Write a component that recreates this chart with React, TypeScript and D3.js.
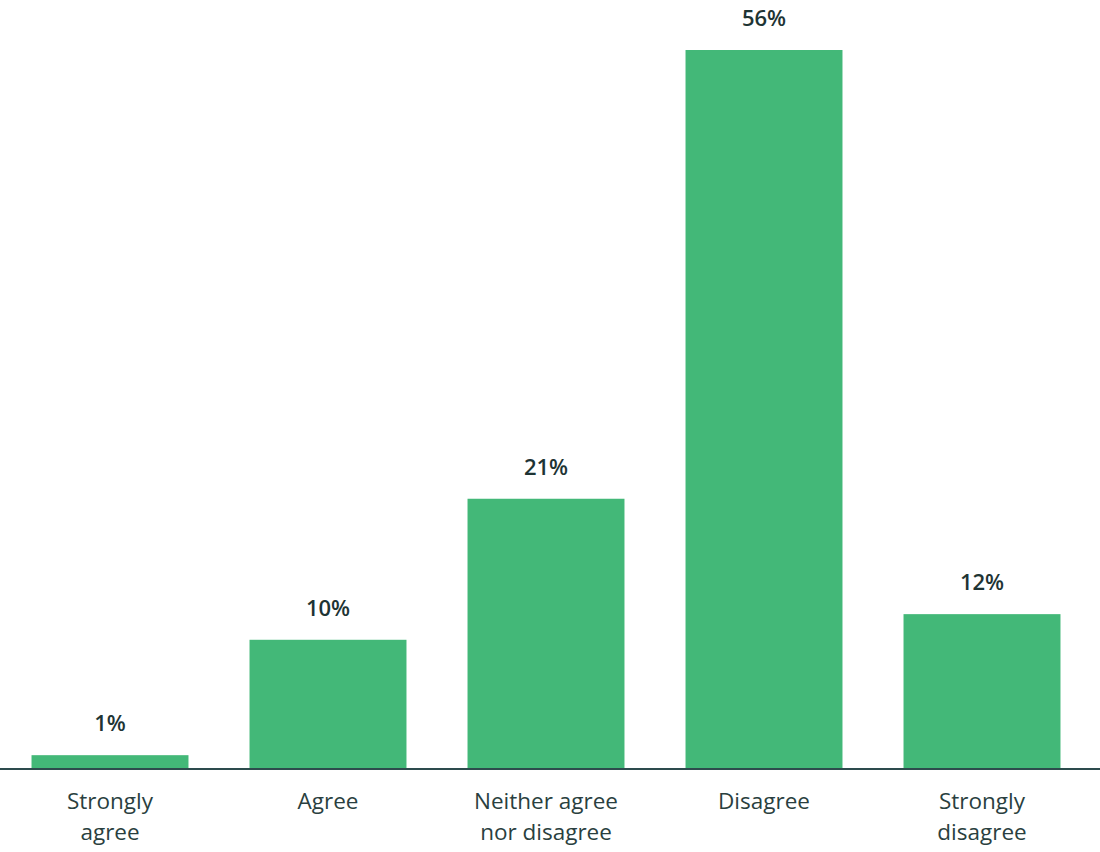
import React from "react";
import * as d3 from "d3";

const categories: string[][] = [
  ["Strongly", "agree"],
  ["Agree"],
  ["Neither agree", "nor disagree"],
  ["Disagree"],
  ["Strongly", "disagree"],
];
const values: number[] = [1, 10, 21, 56, 12];
const valueLabels: string[] = ["1%", "10%", "21%", "56%", "12%"];

const W = 1100;
const H = 852;
const baseY = 768;

export default function App() {
  const keys = categories.map((c) => c.join(" "));
  const x = d3.scaleBand<string>().domain(keys).range([1, 1091]).paddingInner(0.28).paddingOuter(0.14);
  const y = d3.scaleLinear().domain([0, 56]).range([baseY, 50]);
  const font = "'Open Sans', Lato, sans-serif";
  return (
    <svg width={W} height={H} style={{ position: "absolute", left: 0, top: 0, background: "#fff" }}>
      {values.map((v, i) => {
        const bx = x(keys[i])!;
        const cx = bx + x.bandwidth() / 2;
        return (
          <g key={i}>
            <rect x={bx} y={y(v)} width={x.bandwidth()} height={baseY - y(v)} fill="#43b878" />
            <text x={cx} y={y(v) - 24} textAnchor="middle" fontFamily={font} fontSize={22} fontWeight={600} fill="#1e3434">
              {valueLabels[i]}
            </text>
            {categories[i].map((line, j) => (
              <text key={j} x={cx} y={809 + j * 31} textAnchor="middle" fontFamily={font} fontSize={22.5} fontWeight={400} fill="#2a3f40">
                {line}
              </text>
            ))}
          </g>
        );
      })}
      <line x1={0} x2={W} y1={baseY + 1} y2={baseY + 1} stroke="#2d4b4d" strokeWidth={2} />
    </svg>
  );
}
